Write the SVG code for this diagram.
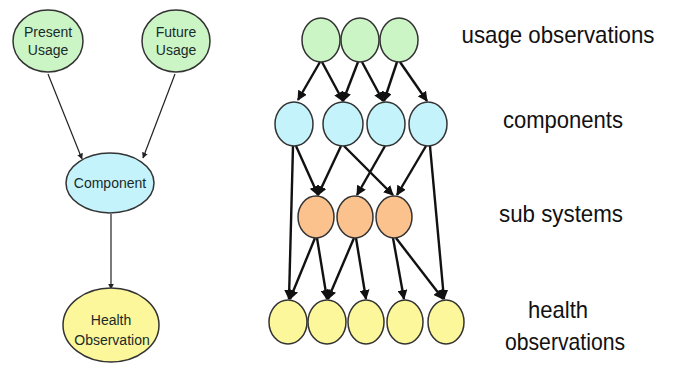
<svg xmlns="http://www.w3.org/2000/svg" width="673" height="365" viewBox="0 0 673 365">
<defs>
<style>
.g{fill:#ccf5c6;stroke:#333;stroke-width:1.5}
.c{fill:#c4f3fb;stroke:#333;stroke-width:1.5}
.o{fill:#fbc28e;stroke:#333;stroke-width:1.5}
.y{fill:#fbf79a;stroke:#333;stroke-width:1.5}
.nt{font-family:"Liberation Sans",Arial,sans-serif;font-size:14px;fill:#1a2a2a;text-anchor:middle}
.lb{font-family:"Liberation Sans",Arial,sans-serif;font-size:24px;fill:#111;text-anchor:middle}
.e1{stroke:#222;stroke-width:1.2;fill:none;marker-end:url(#a1)}
.e2{stroke:#111;stroke-width:2.4;fill:none;marker-end:url(#a2)}
</style>
<marker id="a1" viewBox="0 0 10 10" refX="9" refY="5" markerWidth="6" markerHeight="6" markerUnits="userSpaceOnUse" orient="auto"><path d="M0,0L10,5L0,10z" fill="#222"/></marker>
<marker id="a2" viewBox="0 0 10 10" refX="9" refY="5" markerWidth="10" markerHeight="10" markerUnits="userSpaceOnUse" orient="auto"><path d="M0,0L10,5L0,10z" fill="#111"/></marker>
</defs>
<rect width="673" height="365" fill="#fff"/>
<g id="connectors">
<line class="e1" x1="48" y1="74" x2="82" y2="159"/>
<line class="e1" x1="175" y1="74" x2="143" y2="158"/>
<line class="e1" x1="111" y1="214" x2="111" y2="289"/>
<line class="e2" x1="320" y1="62" x2="298" y2="100"/>
<line class="e2" x1="322" y1="62" x2="343" y2="101"/>
<line class="e2" x1="358" y1="62" x2="343" y2="101"/>
<line class="e2" x1="362" y1="62" x2="383" y2="101"/>
<line class="e2" x1="397" y1="62" x2="384" y2="101"/>
<line class="e2" x1="400" y1="62" x2="427" y2="101"/>
<line class="e2" x1="293" y1="146" x2="289" y2="299"/>
<line class="e2" x1="296" y1="146" x2="318" y2="195"/>
<line class="e2" x1="341" y1="146" x2="318" y2="195"/>
<line class="e2" x1="344" y1="146" x2="393" y2="195"/>
<line class="e2" x1="385" y1="146" x2="357" y2="195"/>
<line class="e2" x1="426" y1="146" x2="397" y2="195"/>
<line class="e2" x1="430" y1="146" x2="444" y2="299"/>
<line class="e2" x1="315" y1="238" x2="290" y2="299"/>
<line class="e2" x1="317" y1="238" x2="327" y2="299"/>
<line class="e2" x1="354" y1="238" x2="328" y2="299"/>
<line class="e2" x1="356" y1="238" x2="366" y2="299"/>
<line class="e2" x1="393" y1="238" x2="404" y2="299"/>
<line class="e2" x1="396" y1="238" x2="443" y2="299"/>
</g>
<g id="present-usage"><ellipse class="g" cx="48" cy="41" rx="35" ry="31"/><text class="nt" x="48" y="37">Present</text><text class="nt" x="48" y="55">Usage</text></g>
<g id="future-usage"><ellipse class="g" cx="176" cy="41" rx="34" ry="31"/><text class="nt" x="176" y="37">Future</text><text class="nt" x="176" y="55">Usage</text></g>
<g id="component"><ellipse class="c" cx="110" cy="183" rx="44" ry="30"/><text class="nt" x="110" y="188">Component</text></g>
<g id="health-observation"><ellipse class="y" cx="111" cy="325" rx="48" ry="37"/><text class="nt" x="111" y="325">Health</text><text class="nt" x="112" y="345">Observation</text></g>
<g id="u1"><ellipse class="g" cx="321" cy="40" rx="19" ry="22"/></g>
<g id="u2"><ellipse class="g" cx="360" cy="40" rx="19" ry="22"/></g>
<g id="u3"><ellipse class="g" cx="399" cy="40" rx="19" ry="22"/></g>
<g id="c1"><ellipse class="c" cx="294" cy="124" rx="19" ry="22"/></g>
<g id="c2"><ellipse class="c" cx="343" cy="124" rx="20" ry="22"/></g>
<g id="c3"><ellipse class="c" cx="386" cy="124" rx="19" ry="22"/></g>
<g id="c4"><ellipse class="c" cx="428" cy="124" rx="19" ry="22"/></g>
<g id="s1"><ellipse class="o" cx="316" cy="217" rx="18" ry="21"/></g>
<g id="s2"><ellipse class="o" cx="355" cy="217" rx="18" ry="21"/></g>
<g id="s3"><ellipse class="o" cx="394" cy="217" rx="18" ry="21"/></g>
<g id="h1"><ellipse class="y" cx="288" cy="322" rx="19" ry="22"/></g>
<g id="h2"><ellipse class="y" cx="327" cy="322" rx="19" ry="22"/></g>
<g id="h3"><ellipse class="y" cx="366" cy="322" rx="18" ry="22"/></g>
<g id="h4"><ellipse class="y" cx="405" cy="322" rx="18" ry="22"/></g>
<g id="h5"><ellipse class="y" cx="446" cy="322" rx="18" ry="22"/></g>
<g id="labels">
<text class="lb" x="558" y="43" textLength="193" lengthAdjust="spacingAndGlyphs">usage observations</text>
<text class="lb" x="563" y="128" textLength="120" lengthAdjust="spacingAndGlyphs">components</text>
<text class="lb" x="561" y="222" textLength="124" lengthAdjust="spacingAndGlyphs">sub systems</text>
<text class="lb" x="558" y="318" textLength="60" lengthAdjust="spacingAndGlyphs">health</text>
<text class="lb" x="565" y="350" textLength="120" lengthAdjust="spacingAndGlyphs">observations</text>
</g>
</svg>
